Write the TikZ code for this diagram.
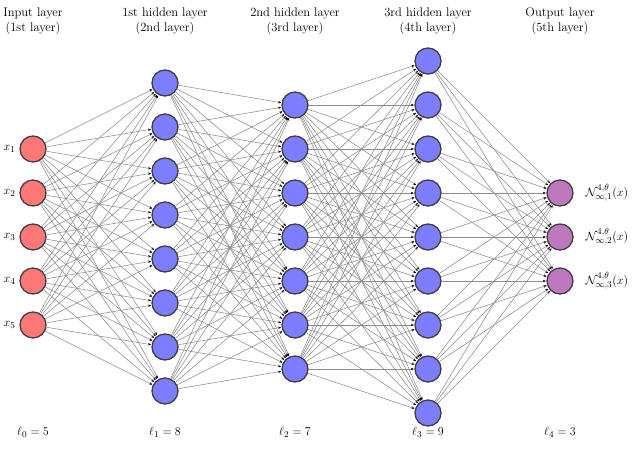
\documentclass[tikz,border=0pt]{standalone}
\usetikzlibrary{arrows.meta}
\definecolor{inred}{RGB}{255,120,120}
\definecolor{hblue}{RGB}{125,125,255}
\definecolor{opur}{RGB}{190,120,190}
\begin{document}
\begin{tikzpicture}[x=1pt,y=-1pt,
  neuron/.style={circle,draw=black!75,line width=1.3pt,minimum size=26pt,inner sep=0pt},
  conn/.style={draw=black!45,line width=0.55pt,-{Stealth[black,length=3pt,width=2.5pt]},shorten >=0.5pt},
  lab/.style={font=\fontsize{12.5}{15}\selectfont,align=center}]
\useasboundingbox (0,0) rectangle (640,464);
\def\sp{44}
\foreach \i in {1,...,5}{\node[neuron,fill=inred] (a\i) at (33,{237+(\i-3)*\sp}) {};
  \node[lab,anchor=east] (xl\i) at (19,{237+(\i-3)*\sp}) {$x_{\i}$};}
\foreach \i in {1,...,8}{\node[neuron,fill=hblue] (b\i) at (165,{237+(\i-4.5)*\sp}) {};}
\foreach \i in {1,...,7}{\node[neuron,fill=hblue] (c\i) at (295,{237+(\i-4)*\sp}) {};}
\foreach \i in {1,...,9}{\node[neuron,fill=hblue] (d\i) at (428,{237+(\i-5)*\sp}) {};}
\foreach \i in {1,...,3}{\node[neuron,fill=opur] (e\i) at (560,{237+(\i-2)*\sp}) {};
  \node[lab,anchor=west] (ol\i) at (582,{237+(\i-2)*\sp}) {$\mathcal{N}^{4,\theta}_{\infty,\i}(x)$};}
\foreach \i in {1,...,5}\foreach \j in {1,...,8}{\draw[conn] (a\i) -- (b\j);}
\foreach \i in {1,...,8}\foreach \j in {1,...,7}{\draw[conn] (b\i) -- (c\j);}
\foreach \i in {1,...,7}\foreach \j in {1,...,9}{\draw[conn] (c\i) -- (d\j);}
\foreach \i in {1,...,9}\foreach \j in {1,...,3}{\draw[conn] (d\i) -- (e\j);}
\node[lab] (h1) at (33,21) {Input layer\\(1st layer)};
\node[lab] (h2) at (165,21) {1st hidden layer\\(2nd layer)};
\node[lab] (h3) at (295,21) {2nd hidden layer\\(3rd layer)};
\node[lab] (h4) at (428,21) {3rd hidden layer\\(4th layer)};
\node[lab] (h5) at (560,21) {Output layer\\(5th layer)};
\node[lab] (l0) at (33,432) {$\ell_0=5$};
\node[lab] (l1) at (165,432) {$\ell_1=8$};
\node[lab] (l2) at (295,432) {$\ell_2=7$};
\node[lab] (l3) at (428,432) {$\ell_3=9$};
\node[lab] (l4) at (560,432) {$\ell_4=3$};
\end{tikzpicture}
\end{document}
